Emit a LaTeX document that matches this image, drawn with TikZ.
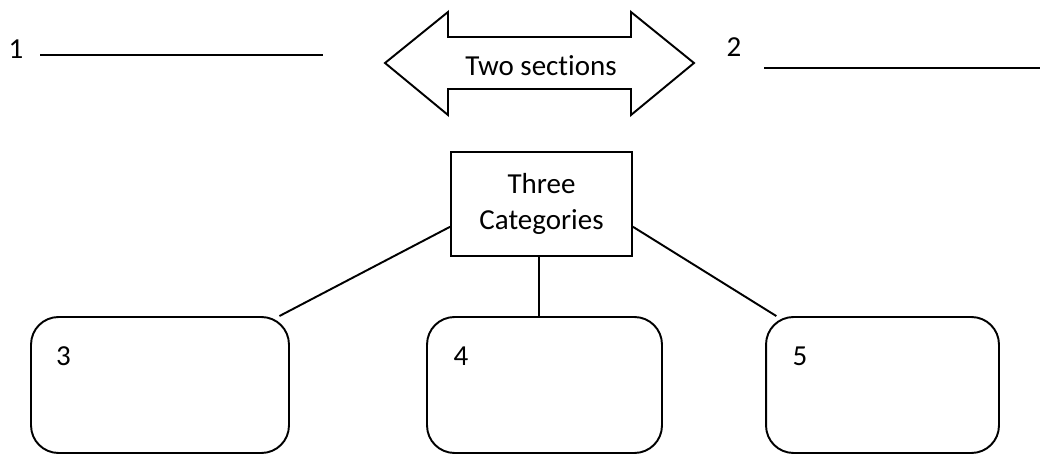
\documentclass[tikz,border=0pt]{standalone}
\usepackage{fontspec}
\setmainfont[Ligatures={NoCommon}]{Carlito}
\usepackage{tikz}

\tikzset{
  lbl/.style={font=\fontsize{16.5}{20.5}\selectfont, inner sep=0pt},
  catbox/.style={draw, line width=1.1pt, minimum width=3.62cm, minimum height=2.08cm,
    align=center, font=\fontsize{16.5}{20.5}\selectfont},
  slot/.style={draw, line width=1.1pt, rounded corners=0.55cm, minimum height=2.72cm}
}

\begin{document}
\begin{tikzpicture}[x=0.02cm, y=-0.02cm, line width=1.1pt]
\useasboundingbox (0,0) rectangle (1040,455);
\node [lbl] (one) at (16,49) {1};
\draw (40,55) coordinate (blankA) -- (323,55);
\node [lbl] (two) at (734,47) {2};
\draw (764,68) coordinate (blankB) -- (1040,68);
\draw [line join=miter] (385,63) -- (448,12) -- (448,37) -- (631,37) -- (631,12)
-- (694,63) -- (631,115) -- (631,89) -- (448,89) -- (448,115) -- cycle;
\node [lbl] (split) at (541,66) {Two sections};
\node [catbox] (cat) at (541.5,204) {Three\\Categories};
\node [slot, minimum width=5.16cm] (box3) at (160,385) {};
\node [slot, minimum width=4.7cm] (box4) at (544.5,385) {};
\node [slot, minimum width=4.66cm] (box5) at (882.5,385) {};
\node [lbl] (three) at (63.5,356) {3};
\node [lbl] (four) at (461,356) {4};
\node [lbl] (five) at (800,356) {5};
\draw (cat.194) -- (box3.30);
\draw (cat.south) ++(-2.5,0) coordinate (stem) -- (stem |- box4.north);
\draw (cat.346) -- (box5.147);
\end{tikzpicture}
\end{document}
